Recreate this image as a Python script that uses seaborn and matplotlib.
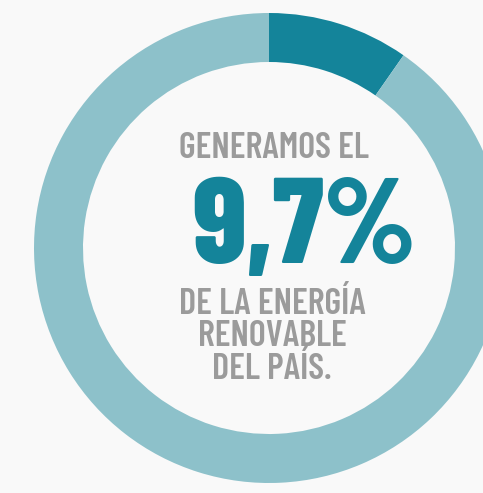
import matplotlib
matplotlib.use("Agg")
import matplotlib.pyplot as plt
import seaborn as sns

# share of renewable energy
labels = ["Renovable", "Resto"]
shares = [9.7, 90.3]
colors = ["#14849a", "#8dc1ca"]

headline = "GENERAMOS EL"
big_value = "9,7%"
footer = "DE LA ENERGÍA\nRENOVABLE\nDEL PAÍS."

sns.set_theme(style="white")
plt.rcParams["font.family"] = ["Barlow Condensed", "DejaVu Sans"]

fig = plt.figure(figsize=(4.83, 4.93), dpi=100, facecolor="#f9f9f9")
ax = fig.add_axes([0, 0, 1, 1])
ax.set_facecolor("#f9f9f9")

# donut, center / radius in pixel units of the axes
ax.pie(shares, colors=colors, startangle=90, counterclock=False,
       center=(269, 245), radius=235,
       wedgeprops=dict(width=49, linewidth=0))
ax.set_xlim(0, 483)
ax.set_ylim(0, 493)
ax.set_aspect("equal")
ax.axis("off")

grey = "#9b9b9b"
ax.text(274, 493 - 158, headline, ha="center", va="baseline",
        fontsize=26, fontweight=600, color=grey)
ax.text(304, 493 - 263, big_value, ha="center", va="baseline",
        fontsize=87, fontweight=800, color=colors[0])
ax.text(272, 493 - 337, footer, ha="center", va="center",
        fontsize=26, fontweight=600, color=grey, linespacing=0.97)

plt.savefig("out.png", dpi=100, facecolor=fig.get_facecolor())
